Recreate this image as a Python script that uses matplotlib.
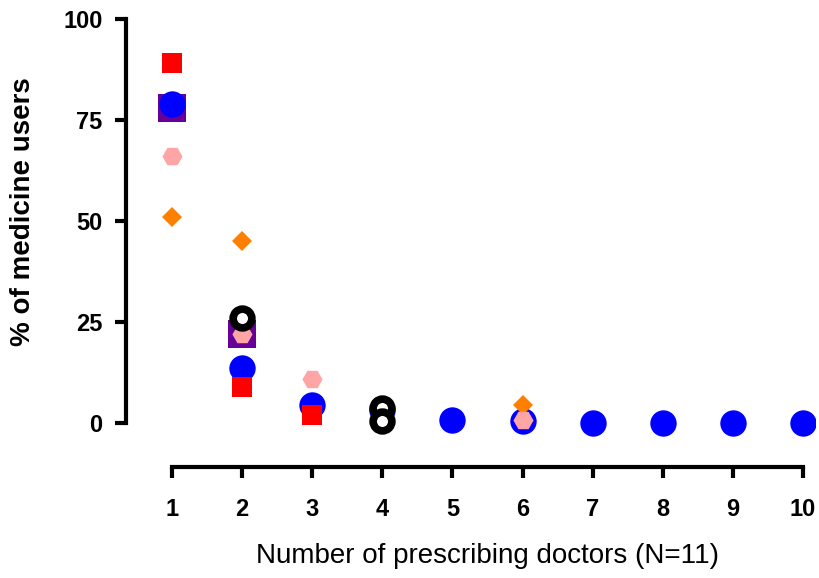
import matplotlib
matplotlib.use("Agg")
import matplotlib.pyplot as plt

# values (% of medicine users per number of doctors)
purple_x = [1, 2]
purple_y = [78, 22]

blue_x = [1, 2, 3, 4, 5, 6, 7, 8, 9, 10]
blue_y = [79, 13.5, 4.5, 3.2, 0.7, 0.4, 0.1, 0.1, 0.1, 0.1]

red_x = [1, 2, 3, 4]
red_y = [89, 9, 2, 1]

orange_x = [1, 2, 6]
orange_y = [51, 45, 4.5]

pink_x = [1, 2, 3, 6]
pink_y = [66, 22, 11, 0.8]

black_x = [2, 4, 4]
black_y = [26, 3.6, 0.5]

x_ticks = [1, 2, 3, 4, 5, 6, 7, 8, 9, 10]
y_ticks = [0, 25, 50, 75, 100]

plt.rcParams['font.family'] = ['Liberation Sans', 'DejaVu Sans']

fig = plt.figure(figsize=(8.19, 5.78), dpi=100)
# axes box in pixels: left 126, right 815, top 19, bottom 467
W, H = 819, 578
ax = fig.add_axes([126 / W, (H - 467) / H, (815 - 126) / W, (467 - 19) / H])

ax.plot(purple_x, purple_y, 's', color='#660099', ms=19.5, mew=0, zorder=3)
ax.plot(blue_x, blue_y, 'o', color='#0000FF', ms=19, mew=0, zorder=4)
ax.plot(red_x, red_y, 's', color='#FF0000', ms=14.5, mew=0, zorder=5)
ax.plot(orange_x, orange_y, 'D', color='#FF8000', ms=10.5, mew=0, zorder=6)
ax.plot(pink_x, pink_y, 'H', color='#FFA5A5', ms=14.5, mew=0, zorder=7)
ax.plot(black_x, black_y, 'o', mfc='white', mec='black', ms=13.5, mew=5.5, zorder=8)

x_lo = 1 - 46 / 70
x_hi = 10 + 12 / 70
ax.set_xlim(x_lo, x_hi)
ax.set_ylim(-44 / 4.04, 100)

for s in ['top', 'right']:
    ax.spines[s].set_visible(False)
for s in ['left', 'bottom']:
    ax.spines[s].set_linewidth(3)
    ax.spines[s].set_capstyle('projecting')
ax.spines['left'].set_bounds(0, 100)
ax.spines['bottom'].set_bounds(1, 10)

ax.set_xticks(x_ticks)
ax.set_yticks(y_ticks)
ax.tick_params(axis='both', width=3, length=8, labelsize=17)
ax.tick_params(axis='y', pad=9)
ax.tick_params(axis='x', pad=14)
for lab in ax.get_xticklabels() + ax.get_yticklabels():
    lab.set_fontweight('bold')

fig.text(23 / W, 1 - 212 / H, '% of medicine users', rotation=90,
         ha='center', va='center', fontsize=20, fontweight='bold')
fig.text(487 / W, 1 - 556 / H, 'Number of prescribing doctors (N=11)',
         ha='center', va='center', fontsize=20)

fig.savefig('out.png', dpi=100)
